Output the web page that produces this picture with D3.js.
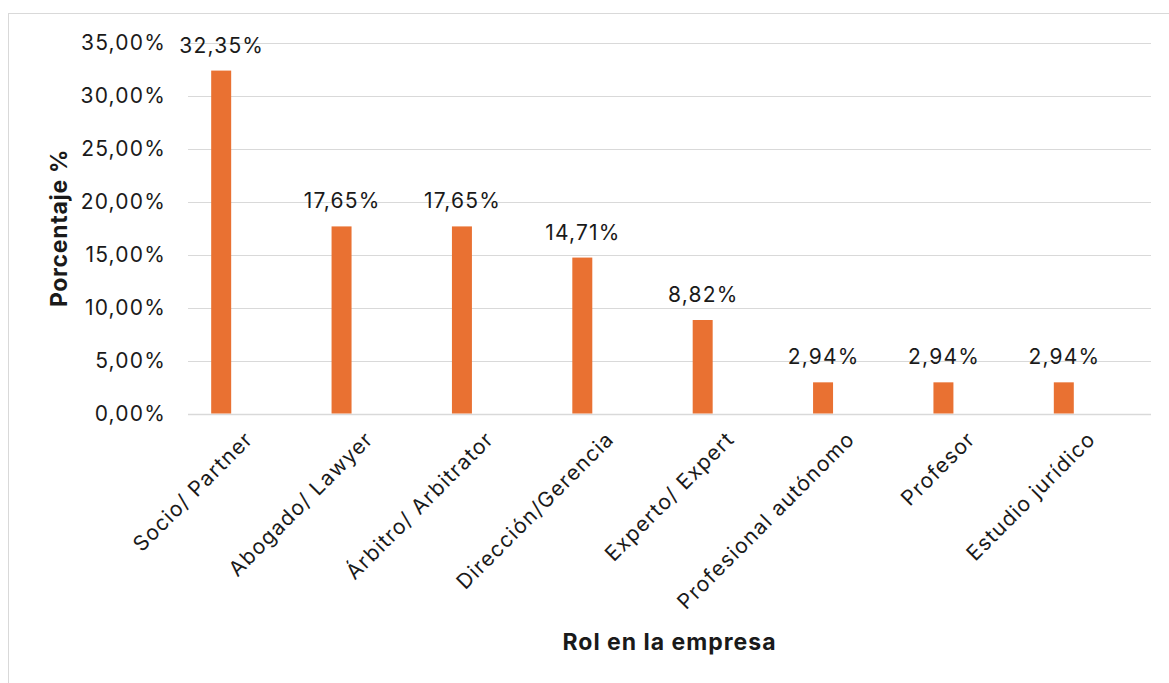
<!DOCTYPE html>
<html lang="es">
<head>
<meta charset="utf-8">
<script src="https://cdn.jsdelivr.net/npm/d3@7"></script>
<style>
  html, body { margin: 0; padding: 0; background: #ffffff; }
  svg { display: block; }
  text { font-family: Inter, "Open Sans", sans-serif; fill: #1a1a1a; }
</style>
</head>
<body>
<svg id="chart" width="1169" height="683"></svg>
<script>
// Roles reported and the share of respondents in each
const categories = [
  "Socio/ Partner",
  "Abogado/ Lawyer",
  "Árbitro/ Arbitrator",
  "Dirección/Gerencia",
  "Experto/ Expert",
  "Profesional autónomo",
  "Profesor",
  "Estudio jurídico"
];
const percentages = [32.35, 17.65, 17.65, 14.71, 8.82, 2.94, 2.94, 2.94];
const yTicks = [0, 5, 10, 15, 20, 25, 30, 35];
// Clustered layout with two slots per category; only the first slot carries data
const seriesSlots = ["Porcentaje", "(vacía)"];

const svg = d3.select("#chart");
const W = 1169, H = 683;
const plot = { left: 188, right: 1151, top: 42.5, bottom: 413.5 };

const fmt = v => v.toFixed(2).replace(".", ",") + "%";
const labelFont = { size: "21px", spacing: "1.2px" };

// Outer frame
svg.append("rect")
  .attr("x", 8.5).attr("y", 13.5)
  .attr("width", W + 10).attr("height", H + 10)
  .attr("fill", "none").attr("stroke", "#d9d9d9").attr("stroke-width", 1);

const x = d3.scaleBand().domain(categories).range([plot.left, plot.right]).paddingInner(0).paddingOuter(0);
const xInner = d3.scaleBand().domain(seriesSlots).range([-37, 37]).paddingInner(0.63).paddingOuter(0);
const y = d3.scaleLinear().domain([0, 35]).range([plot.bottom, plot.top]);

// Gridlines
svg.append("g")
  .selectAll("line")
  .data(yTicks)
  .join("line")
  .attr("x1", plot.left).attr("x2", plot.right)
  .attr("y1", d => Math.round(y(d)) + 0.5).attr("y2", d => Math.round(y(d)) + 0.5)
  .attr("stroke", "#d9d9d9").attr("stroke-width", d => d === 0 ? 1.5 : 1);

// Y axis labels
const yAxis = d3.axisLeft(y).tickValues(yTicks).tickFormat(fmt).tickSize(0).tickPadding(22);
const gy = svg.append("g").attr("transform", `translate(${plot.left},0)`).call(yAxis);
gy.select(".domain").remove();
gy.selectAll("text")
  .style("font-family", "Inter, 'Open Sans', sans-serif")
  .style("font-size", labelFont.size)
  .style("letter-spacing", labelFont.spacing)
  .attr("fill", "#1a1a1a");

// Bars
const bars = svg.append("g");
bars.selectAll("rect")
  .data(percentages)
  .join("rect")
  .attr("x", (d, i) => x(categories[i]) + x.bandwidth() / 2 + xInner(seriesSlots[0]))
  .attr("width", xInner.bandwidth())
  .attr("y", d => y(d))
  .attr("height", d => y(0) - y(d))
  .attr("fill", "#e97132");

// Value labels
svg.append("g")
  .selectAll("text")
  .data(percentages)
  .join("text")
  .attr("x", (d, i) => x(categories[i]) + x.bandwidth() / 2 + xInner(seriesSlots[0]) + xInner.bandwidth() / 2 + 0.6)
  .attr("y", d => y(d) - 18)
  .attr("text-anchor", "middle")
  .style("font-size", labelFont.size)
  .style("letter-spacing", labelFont.spacing)
  .text(fmt);

// Category labels, rotated
const xAxis = d3.axisBottom(x).tickSize(0).tickPadding(0);
const gx = svg.append("g").attr("transform", `translate(0,${plot.bottom})`).call(xAxis);
gx.select(".domain").remove();
gx.selectAll("text")
  .style("font-family", "Inter, 'Open Sans', sans-serif")
  .style("font-size", labelFont.size)
  .style("letter-spacing", labelFont.spacing)
  .attr("fill", "#1a1a1a")
  .attr("text-anchor", "end")
  .attr("dy", null)
  .attr("y", 0)
  .attr("transform", "translate(6,27) rotate(-45)");

// Axis titles
svg.append("text")
  .attr("x", (plot.left + plot.right) / 2)
  .attr("y", 650)
  .attr("text-anchor", "middle")
  .style("font-size", "23px")
  .style("font-weight", "700")
  .style("letter-spacing", "1px")
  .text("Rol en la empresa");

svg.append("text")
  .attr("transform", `translate(67,${(plot.top + plot.bottom) / 2}) rotate(-90)`)
  .attr("text-anchor", "middle")
  .style("font-size", "23px")
  .style("font-weight", "700")
  .style("letter-spacing", "0.7px")
  .text("Porcentaje %");
</script>
</body>
</html>
